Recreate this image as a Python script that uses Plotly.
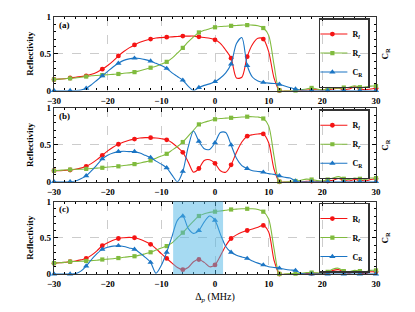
import plotly.graph_objects as go

# ---------------- data ----------------
detuning = list(range(-30, 31))  # MHz, 1 MHz steps

Rl_a = [0.15, 0.155, 0.16, 0.17, 0.18, 0.19, 0.20, 0.22, 0.25, 0.29,
        0.34, 0.40, 0.47, 0.53, 0.58, 0.62, 0.655, 0.68, 0.70, 0.715,
        0.72, 0.725, 0.73, 0.735, 0.74, 0.74, 0.74, 0.73, 0.72, 0.71,
        0.69, 0.64, 0.55, 0.44, 0.17, 0.18, 0.46, 0.63, 0.71, 0.70,
        0.53, 0.17, 0.0, -0.005, -0.005, -0.01, 0.0, 0.005, 0.01, 0.01,
        0.005, 0.01, 0.02, 0.03, 0.015, 0.02, 0.05, 0.025, 0.01, 0.02, 0.03]
Rr_a = [0.15, 0.155, 0.16, 0.165, 0.17, 0.18, 0.19, 0.20, 0.205, 0.21,
        0.215, 0.22, 0.225, 0.235, 0.24, 0.25, 0.27, 0.29, 0.31, 0.33,
        0.36, 0.39, 0.44, 0.51, 0.58, 0.66, 0.73, 0.79, 0.82, 0.84,
        0.86, 0.87, 0.875, 0.88, 0.885, 0.89, 0.89, 0.89, 0.88, 0.85,
        0.75, 0.35, 0.0, 0.0, 0.0, 0.0, 0.01, 0.02, 0.035, 0.02,
        0.01, 0.02, 0.035, 0.03, 0.04, 0.045, 0.065, 0.045, 0.05, 0.06, 0.06]
CR_a = [0.0, 0.0, 0.0, 0.0, 0.0, 0.005, 0.03, 0.08, 0.14, 0.20,
        0.26, 0.32, 0.37, 0.41, 0.43, 0.44, 0.435, 0.42, 0.40, 0.37,
        0.34, 0.30, 0.24, 0.19, 0.14, 0.06, 0.0, 0.04, 0.07, 0.09,
        0.12, 0.17, 0.24, 0.36, 0.64, 0.72, 0.34, 0.18, 0.13, 0.11,
        0.10, 0.095, 0.085, 0.06, 0.04, 0.02, 0.005, 0.0, 0.0, 0.0,
        0.0, 0.0, 0.0, 0.0, 0.0, 0.0, 0.0, 0.0, 0.0, 0.0, 0.0]

Rl_b = [0.15, 0.15, 0.155, 0.16, 0.17, 0.185, 0.21, 0.25, 0.30, 0.36,
        0.42, 0.47, 0.51, 0.54, 0.565, 0.58, 0.595, 0.60, 0.60, 0.595,
        0.585, 0.57, 0.53, 0.47, 0.40, 0.27, 0.13, 0.18, 0.29, 0.30,
        0.25, 0.15, 0.13, 0.23, 0.40, 0.54, 0.62, 0.64, 0.65, 0.65,
        0.53, 0.17, 0.0, -0.005, -0.005, -0.01, 0.0, 0.005, 0.01, 0.005,
        0.0, 0.01, 0.02, 0.045, 0.02, 0.01, 0.03, 0.02, 0.01, 0.03, 0.04]
Rr_b = [0.15, 0.155, 0.16, 0.165, 0.17, 0.17, 0.175, 0.18, 0.185, 0.19,
        0.20, 0.205, 0.21, 0.22, 0.23, 0.24, 0.255, 0.27, 0.29, 0.32,
        0.35, 0.38, 0.43, 0.48, 0.54, 0.62, 0.70, 0.78, 0.81, 0.83,
        0.85, 0.86, 0.865, 0.87, 0.875, 0.88, 0.885, 0.885, 0.88, 0.86,
        0.76, 0.35, 0.0, 0.0, 0.005, 0.01, 0.02, 0.035, 0.03, 0.015,
        0.01, 0.03, 0.05, 0.07, 0.04, 0.03, 0.05, 0.04, 0.03, 0.05, 0.05]
CR_b = [0.0, 0.0, 0.0, 0.0, 0.01, 0.04, 0.08, 0.15, 0.23, 0.31,
        0.36, 0.39, 0.41, 0.415, 0.41, 0.41, 0.39, 0.36, 0.33, 0.28,
        0.24, 0.19, 0.09, 0.0, 0.14, 0.47, 0.69, 0.55, 0.45, 0.44,
        0.53, 0.67, 0.67, 0.50, 0.32, 0.22, 0.18, 0.15, 0.14, 0.13,
        0.11, 0.10, 0.08, 0.06, 0.05, 0.01, 0.0, 0.0, 0.0, 0.0,
        0.0, 0.0, 0.0, 0.0, 0.0, 0.0, 0.0, 0.0, 0.0, 0.0, 0.0]

Rl_c = [0.15, 0.155, 0.16, 0.17, 0.18, 0.195, 0.215, 0.26, 0.32, 0.39,
        0.43, 0.465, 0.49, 0.50, 0.505, 0.50, 0.48, 0.45, 0.41, 0.35,
        0.28, 0.215, 0.15, 0.09, 0.06, 0.09, 0.17, 0.20, 0.16, 0.10,
        0.125, 0.25, 0.39, 0.49, 0.54, 0.575, 0.60, 0.62, 0.645, 0.67,
        0.58, 0.19, 0.0, -0.005, -0.005, -0.01, 0.0, 0.005, 0.01, 0.01,
        0.0, 0.02, 0.05, 0.06, 0.03, 0.01, 0.03, 0.02, 0.0, 0.03, 0.03]
Rr_c = [0.15, 0.155, 0.16, 0.17, 0.172, 0.175, 0.18, 0.185, 0.19, 0.20,
        0.205, 0.21, 0.22, 0.23, 0.24, 0.245, 0.26, 0.28, 0.30, 0.33,
        0.36, 0.385, 0.43, 0.50, 0.57, 0.65, 0.73, 0.80, 0.83, 0.85,
        0.86, 0.87, 0.88, 0.89, 0.895, 0.90, 0.90, 0.90, 0.89, 0.86,
        0.76, 0.35, 0.0, 0.0, 0.005, 0.005, 0.01, 0.02, 0.02, 0.015,
        0.01, 0.03, 0.07, 0.08, 0.04, 0.03, 0.05, 0.04, 0.03, 0.05, 0.05]
CR_c = [0.0, 0.0, 0.0, 0.0, 0.005, 0.04, 0.11, 0.20, 0.28, 0.34,
        0.37, 0.385, 0.39, 0.38, 0.36, 0.34, 0.29, 0.23, 0.16, 0.01,
        0.12, 0.30, 0.52, 0.74, 0.80, 0.63, 0.56, 0.60, 0.72, 0.80,
        0.74, 0.55, 0.38, 0.30, 0.26, 0.235, 0.215, 0.18, 0.15, 0.125,
        0.10, 0.09, 0.08, 0.065, 0.055, 0.05, 0.01, 0.0, 0.0, 0.0,
        0.0, 0.0, 0.0, 0.0, 0.0, 0.0, 0.0, 0.0, 0.0, 0.0, 0.0]

panel_labels = ["(a)", "(b)", "(c)"]
series_names = ["R<sub><i>l</i></sub>", "R<sub><i>r</i></sub>", "C<sub>R</sub>"]
shade_range = [-7.8, 1.5]   # highlighted detuning window in panel (c)
x_ticks = [-30, -20, -10, 0, 10, 20, 30]

panels = [(Rl_a, Rr_a, CR_a), (Rl_b, Rr_b, CR_b), (Rl_c, Rr_c, CR_c)]
for p in panels:
    for s in p:
        assert len(s) == len(detuning)

# ---------------- style ----------------
colors = ["#f51414", "#80bb3e", "#1b75c4"]
symbols = ["circle", "square", "triangle-up"]
msizes = [4.8, 4.2, 5.5]
FONT = "Liberation Serif"
domains = [[0.714, 1.0], [0.359, 0.645], [0.0, 0.282]]

fig = go.Figure()
for i, series in enumerate(panels):
    xa = "x" if i == 0 else f"x{i+1}"
    ya = "y" if i == 0 else f"y{i+1}"
    lg = "legend" if i == 0 else f"legend{i+1}"
    for j, vals in enumerate(series):
        fig.add_trace(go.Scatter(
            x=detuning, y=vals, mode="lines", xaxis=xa, yaxis=ya,
            line=dict(color=colors[j], width=1.1, shape="spline", smoothing=0.8),
            showlegend=False, hoverinfo="skip"))
        mx = [x for x in detuning if x % 3 == 0]
        my = [v for x, v in zip(detuning, vals) if x % 3 == 0]
        fig.add_trace(go.Scatter(
            x=mx, y=my, mode="markers", xaxis=xa, yaxis=ya, cliponaxis=False,
            marker=dict(color=colors[j], symbol=symbols[j], size=msizes[j], line=dict(width=0)),
            showlegend=False))
        fig.add_trace(go.Scatter(
            x=[None], y=[None], mode="lines+markers", xaxis=xa, yaxis=ya,
            name=series_names[j], legend=lg,
            line=dict(color=colors[j], width=1.1),
            marker=dict(color=colors[j], symbol=symbols[j], size=msizes[j])))

# page body adds an 8 px offset, compensate in figure size/margins
layout = dict(
    width=407, height=304,
    margin=dict(l=46, r=39, t=4, b=38),
    paper_bgcolor="white", plot_bgcolor="white",
    font=dict(family=FONT, size=9, color="black"),
)

for i in range(3):
    xk = "xaxis" if i == 0 else f"xaxis{i+1}"
    yk = "yaxis" if i == 0 else f"yaxis{i+1}"
    ya = "y" if i == 0 else f"y{i+1}"
    xa = "x" if i == 0 else f"x{i+1}"
    layout[xk] = dict(
        anchor=ya, range=[-30, 30], tickvals=x_ticks,
        ticks="inside", ticklen=4, tickwidth=1, tickcolor="black",
        minor=dict(tickmode="linear", tick0=0, dtick=2, ticks="inside", ticklen=2, tickcolor="black"),
        showline=True, linecolor="#333", linewidth=1.4, mirror="allticks",
        showgrid=True, gridcolor="#cccccc", griddash="dash", gridwidth=0.8,
        zeroline=False, tickfont=dict(family=FONT, size=9, weight="bold"),
        ticklabelstandoff=1,
    )
    layout[yk] = dict(
        anchor=xa, domain=domains[i], range=[0, 1], tick0=0, dtick=0.5,
        ticks="inside", ticklen=4, tickwidth=1, tickcolor="black",
        minor=dict(tickmode="linear", tick0=0, dtick=0.1, ticks="inside", ticklen=2, tickcolor="black"),
        showline=True, linecolor="#333", linewidth=1.4, mirror="allticks",
        showgrid=True, gridcolor="#cccccc", griddash="dash", gridwidth=0.8,
        zeroline=False, tickfont=dict(family=FONT, size=9, weight="bold"),
        title=dict(text="Reflectivity", font=dict(family=FONT, size=9, weight="bold"), standoff=4),
    )
    lgk = "legend" if i == 0 else f"legend{i+1}"
    layout[lgk] = dict(
        x=0.981, xanchor="right", xref="paper",
        y=domains[i][1] - 0.004, yanchor="top", yref="paper",
        bordercolor="#333", borderwidth=1.5, bgcolor="rgba(255,255,255,0)",
        font=dict(family=FONT, size=8, weight="bold"),
        itemwidth=30, tracegroupgap=0, indentation=-8,
    )

layout["xaxis3"]["title"] = dict(text="Δ<sub><i>p</i></sub> (MHz)", font=dict(family=FONT, size=10), standoff=4)

fig.update_layout(**layout)

for i in range(3):
    dom = "x domain" if i == 0 else f"x{i+1} domain"
    ydom = "y domain" if i == 0 else f"y{i+1} domain"
    fig.add_annotation(text=f"<b>{panel_labels[i]}</b>", xref=dom, yref=ydom, x=0.01, y=0.99,
                       xanchor="left", yanchor="top", showarrow=False,
                       font=dict(family=FONT, size=9))
    fig.add_annotation(text="<b>C<sub>R</sub></b>", xref="paper", yref=ydom, x=1.03, y=0.5,
                       xanchor="center", yanchor="middle", showarrow=False, textangle=-90,
                       font=dict(family=FONT, size=9))

fig.add_shape(type="rect", xref="x3", yref="y3 domain", x0=shade_range[0], x1=shade_range[1],
              y0=0, y1=1, fillcolor="rgb(77,181,229)", opacity=0.5, line=dict(width=0), layer="above")

fig.write_html("out.html")
